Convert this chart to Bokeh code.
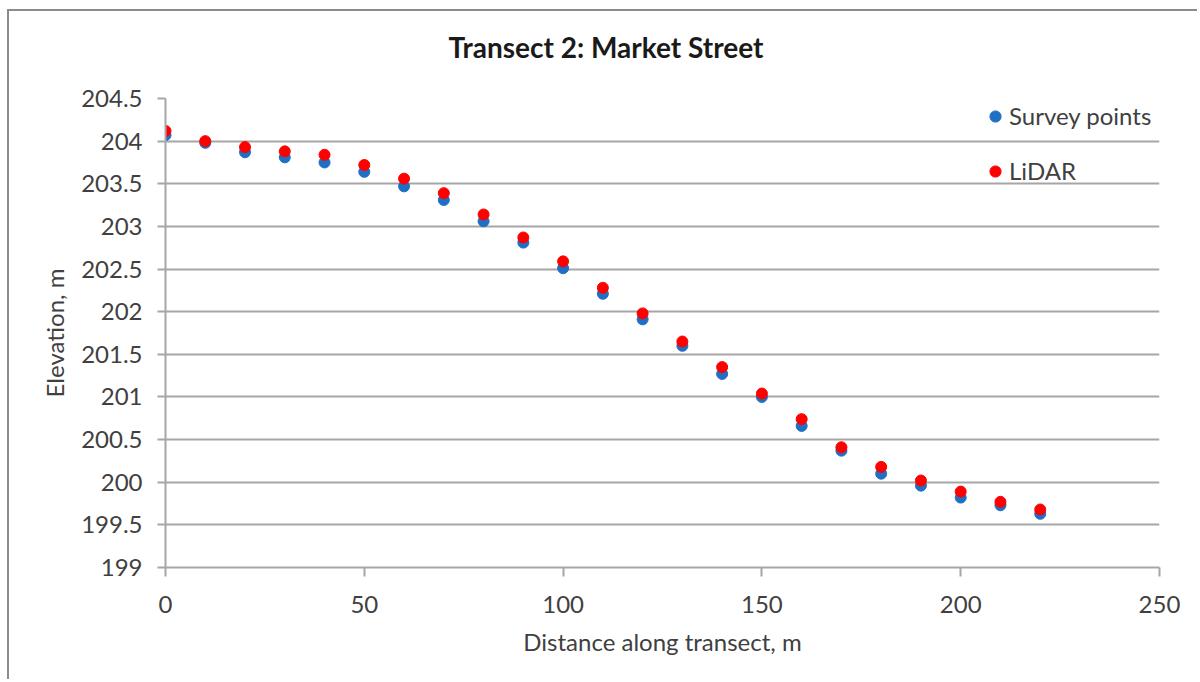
from bokeh.plotting import figure
from bokeh.models import ColumnDataSource, FixedTicker, Legend, LegendItem, Range1d, Title
from bokeh.embed import file_html
from bokeh.resources import INLINE

# ---- data ----
distance = [0, 10, 20, 30, 40, 50, 60, 70, 80, 90, 100, 110, 120, 130, 140, 150,
            160, 170, 180, 190, 200, 210, 220]
survey = [204.07, 203.98, 203.87, 203.81, 203.75, 203.64, 203.47, 203.31, 203.06,
          202.81, 202.51, 202.21, 201.91, 201.60, 201.27, 201.00, 200.66, 200.37,
          200.10, 199.96, 199.82, 199.73, 199.63]
lidar = [204.12, 204.00, 203.93, 203.88, 203.84, 203.72, 203.56, 203.39, 203.14,
         202.87, 202.59, 202.28, 201.98, 201.65, 201.35, 201.04, 200.74, 200.41,
         200.18, 200.02, 199.89, 199.77, 199.68]
y_ticks = [199, 199.5, 200, 200.5, 201, 201.5, 202, 202.5, 203, 203.5, 204, 204.5]
y_tick_labels = ["199", "199.5", "200", "200.5", "201", "201.5", "202", "202.5",
                 "203", "203.5", "204", "204.5"]
x_ticks = [0, 50, 100, 150, 200, 250]
series_names = ["Survey points", "LiDAR"]
title_text = "Transect 2: Market Street"
x_label = "Distance along transect, m"
y_label = "Elevation, m"

FONT = "Lato"
TXT = "#404040"
GRID = "#a6a6a6"

src = ColumnDataSource(dict(d=distance, s=survey, l=lidar))

p = figure(width=1190, height=670, output_backend="svg", toolbar_location=None,
           x_range=Range1d(0, 250), y_range=Range1d(199, 204.5),
           min_border_left=156, min_border_right=40, min_border_top=87,
           min_border_bottom=114)
p.styles = {"border-left": "2px solid #8c8c8c", "border-top": "2px solid #8c8c8c",
            "margin-left": "7px", "margin-top": "9px"}
p.outline_line_color = None
p.background_fill_color = "white"
p.border_fill_color = "white"

# spacer panel between the frame and the title (inner-most "above" panel)
spacer = Title(text=" ", text_font_size="10px", standoff=22)
p.add_layout(spacer, "above")

p.title.text = title_text
p.title.text_font = FONT
p.title.text_font_size = "28px"
p.title.text_font_style = "bold"
p.title.text_color = "#1a1a1a"
p.title.align = "left"
p.title.offset = 283
p.title.standoff = 0

r_s = p.scatter("d", "s", source=src, size=11, color="#1f6fc4", line_color="#1f6fc4")
r_l = p.scatter("d", "l", source=src, size=11, color="#ff0000", line_color="#ff0000")

# axes
for ax in (p.xaxis[0], p.yaxis[0]):
    ax.axis_line_color = GRID
    ax.axis_line_width = 2
    ax.major_tick_line_color = GRID
    ax.major_tick_line_width = 2
    ax.major_tick_in = 0
    ax.minor_tick_line_color = None
    ax.major_label_text_font = FONT
    ax.major_label_text_font_size = "24px"
    ax.major_label_text_color = TXT
    ax.axis_label_text_font = FONT
    ax.axis_label_text_font_size = "24px"
    ax.axis_label_text_font_style = "normal"
    ax.axis_label_text_color = TXT

p.xaxis.ticker = FixedTicker(ticks=x_ticks)
p.xaxis.major_tick_out = 9
p.xaxis.major_label_standoff = 19
p.xaxis.axis_label = x_label
p.xaxis.axis_label_standoff = 11

p.yaxis.ticker = FixedTicker(ticks=y_ticks)
p.yaxis.major_label_overrides = {t: lab for t, lab in zip(y_ticks, y_tick_labels)}
p.yaxis.major_tick_out = 8
p.yaxis.major_label_standoff = 15
p.yaxis.axis_label = y_label
p.yaxis.axis_label_standoff = 9

p.xgrid.grid_line_color = None
p.ygrid.grid_line_color = GRID
p.ygrid.grid_line_width = 2

legend = Legend(items=[LegendItem(label=series_names[0], renderers=[r_s]),
                       LegendItem(label=series_names[1], renderers=[r_l])],
                location=(816, 382), orientation="vertical")
legend.border_line_color = None
legend.background_fill_alpha = 0
legend.padding = 0
legend.margin = 0
legend.spacing = 26
legend.glyph_width = 28
legend.glyph_height = 28
legend.label_height = 28
legend.label_standoff = 0
legend.label_text_font = FONT
legend.label_text_font_size = "24px"
legend.label_text_color = TXT
p.add_layout(legend, "center")

open("out.html", "w").write(file_html(p, INLINE))
